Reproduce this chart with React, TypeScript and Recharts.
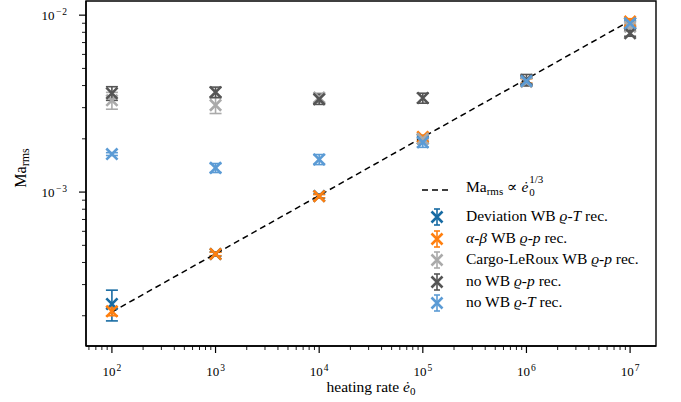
import { ScatterChart, Scatter, XAxis, YAxis, ErrorBar, ReferenceArea } from 'recharts';

const rates = [1e2, 1e3, 1e4, 1e5, 1e6, 1e7];

const devWB = [2.33e-4, 4.47e-4, 9.5e-4, 2.0e-3, 4.25e-3, 9.0e-3];
const devWBErr = [4.6e-5, 1.2e-5, 2.5e-5, 6e-5, 1.5e-4, 3e-4];
const abWB = [2.12e-4, 4.47e-4, 9.48e-4, 2.05e-3, 4.25e-3, 9.2e-3];
const abWBErr = [1.2e-5, 1e-5, 2e-5, 5e-5, 1.2e-4, 3.5e-4];
const cargoWB = [3.3e-3, 3.1e-3, 3.42e-3, 2.0e-3, 4.2e-3, 8.6e-3];
const cargoWBErr = [3.6e-4, 3.2e-4, 2e-4, 1e-4, 2e-4, 3e-4];
const noWBp = [3.62e-3, 3.67e-3, 3.35e-3, 3.4e-3, 4.3e-3, 7.9e-3];
const noWBpErr = [3.2e-4, 2.5e-4, 2.2e-4, 2.2e-4, 3.2e-4, 3e-4];
const noWBT = [1.64e-3, 1.37e-3, 1.53e-3, 1.91e-3, 4.25e-3, 9.0e-3];
const noWBTErr = [3e-5, 8e-5, 1e-4, 1.2e-4, 1.5e-4, 3e-4];

// reference scaling line, endpoints only
const fitRates = [1e2, 1e7];
const fitValues = [2.1e-4, 9.3e-3];

const X_DOMAIN = [Math.pow(10, 1.75), Math.pow(10, 7.25)];
const Y_DOMAIN = [Math.pow(10, -3.87), Math.pow(10, -1.92)];

const FONT = '"Liberation Serif", "Times New Roman", "DejaVu Serif", serif';

const minorTicks = (lo: number, hi: number) => {
  const out: number[] = [];
  for (let e = Math.floor(Math.log10(lo)); e <= Math.ceil(Math.log10(hi)); e++) {
    for (let m = 1; m < 10; m++) {
      const v = m * Math.pow(10, e);
      if (v >= lo && v <= hi) out.push(v);
    }
  }
  return out;
};

const isMajor = (v: number) => {
  const l = Math.log10(v);
  return Math.abs(l - Math.round(l)) < 1e-6;
};

const expLabel = (v: number) => {
  const e = Math.round(Math.log10(v));
  return e < 0 ? '\u2212' + Math.abs(e) : String(e);
};

const XTick = (props: any) => {
  const { x, y, payload } = props;
  const major = isMajor(payload.value);
  return (
    <g>
      <line x1={x} x2={x} y1={y} y2={y + (major ? 7 : 4)} stroke="#000" strokeWidth={major ? 1.2 : 0.9} />
      {major && (
        <text x={x} y={y + 30} textAnchor="middle" fontSize={13} fontFamily={FONT} fill="#000">
          10<tspan dy={-5} dx={1} fontSize={9.5}>{expLabel(payload.value)}</tspan>
        </text>
      )}
    </g>
  );
};

const YTick = (props: any) => {
  const { x, y, payload } = props;
  const major = isMajor(payload.value);
  return (
    <g>
      <line x1={x} x2={x - (major ? 7 : 4)} y1={y} y2={y} stroke="#000" strokeWidth={major ? 1.2 : 0.9} />
      {major && (
        <text x={x - 18} y={y + 5} textAnchor="end" fontSize={13} fontFamily={FONT} fill="#000">
          10<tspan dy={-5} dx={1.5} fontSize={9.5} letterSpacing={1}>{expLabel(payload.value)}</tspan>
        </text>
      )}
    </g>
  );
};

const xMarker = (color: string) => (props: any) => {
  const { cx, cy } = props;
  if (cx == null || cy == null) return <g />;
  const s = 5.6;
  return (
    <path
      d={`M${cx - s},${cy - s}L${cx + s},${cy + s}M${cx - s},${cy + s}L${cx + s},${cy - s}`}
      stroke={color}
      strokeWidth={2.6}
      fill="none"
    />
  );
};

const series = [
  { name: 'dev', values: devWB, errs: devWBErr, color: '#176ba3' },
  { name: 'ab', values: abWB, errs: abWBErr, color: '#ff7f0e' },
  { name: 'cargo', values: cargoWB, errs: cargoWBErr, color: '#aaaaaa' },
  { name: 'nop', values: noWBp, errs: noWBpErr, color: '#555555' },
  { name: 'noT', values: noWBT, errs: noWBTErr, color: '#5b9bd5' },
];

const fitData = fitRates.map((x, i) => ({ x, y: fitValues[i] }));

const LegendMarker = ({ color }: { color: string }) => (
  <svg width={30} height={20} style={{ position: 'absolute', left: 422, top: -10 }}>
    <line x1={15} x2={15} y1={2} y2={18} stroke={color} strokeWidth={1.6} />
    <line x1={12} x2={18} y1={2} y2={2} stroke={color} strokeWidth={1.6} />
    <line x1={12} x2={18} y1={18} y2={18} stroke={color} strokeWidth={1.6} />
    <path d="M9.5,4.5L20.5,15.5M9.5,15.5L20.5,4.5" stroke={color} strokeWidth={2.6} />
  </svg>
);

const it = { fontStyle: 'italic' } as const;

const legendRows = [
  { color: '#176ba3', label: <>Deviation WB <span style={it}>ϱ</span>-<span style={it}>T</span> rec.</> },
  { color: '#ff7f0e', label: <><span style={it}>α</span>-<span style={it}>β</span> WB <span style={it}>ϱ</span>-<span style={it}>p</span> rec.</> },
  { color: '#aaaaaa', label: <>Cargo-LeRoux WB <span style={it}>ϱ</span>-<span style={it}>p</span> rec.</> },
  { color: '#555555', label: <>no WB <span style={it}>ϱ</span>-<span style={it}>p</span> rec.</> },
  { color: '#5b9bd5', label: <>no WB <span style={it}>ϱ</span>-<span style={it}>T</span> rec.</> },
];
const legendTops = [217, 239, 260, 282, 303];

export default function App() {
  return (
    <div style={{ position: 'absolute', left: 0, top: 0, width: 681, height: 402, background: '#fff', fontFamily: FONT }}>
      <ScatterChart width={681} height={402} margin={{ top: 1, right: 25, bottom: 0, left: 0 }}>
        <XAxis
          dataKey="x"
          type="number"
          scale="log"
          domain={X_DOMAIN}
          allowDataOverflow
          ticks={minorTicks(X_DOMAIN[0], X_DOMAIN[1])}
          interval={0}
          tick={<XTick />}
          tickLine={false}
          tickSize={0}
          tickMargin={0}
          height={56}
          axisLine={{ stroke: '#000', strokeWidth: 1.4 }}
        />
        <YAxis
          dataKey="y"
          type="number"
          scale="log"
          domain={Y_DOMAIN}
          allowDataOverflow
          ticks={minorTicks(Y_DOMAIN[0], Y_DOMAIN[1])}
          interval={0}
          tick={<YTick />}
          tickLine={false}
          tickSize={0}
          tickMargin={0}
          width={86}
          axisLine={{ stroke: '#000', strokeWidth: 1.4 }}
        />
        <ReferenceArea
          x1={X_DOMAIN[0]}
          x2={X_DOMAIN[1]}
          y1={Y_DOMAIN[0]}
          y2={Y_DOMAIN[1]}
          ifOverflow="visible"
          fill="none"
          fillOpacity={0}
          stroke="#000"
          strokeWidth={1.4}
          strokeOpacity={1}
        />
        <Scatter
          data={fitData}
          line={{ stroke: '#000', strokeWidth: 1.5, strokeDasharray: '6 4' }}
          shape={() => <g />}
          isAnimationActive={false}
        />
        {series.map((s) => (
          <Scatter
            key={s.name}
            data={rates.map((x, i) => ({ x, y: s.values[i], err: s.errs[i] }))}
            shape={xMarker(s.color)}
            isAnimationActive={false}
          >
            <ErrorBar dataKey="err" direction="y" width={6} strokeWidth={1.6} stroke={s.color} />
          </Scatter>
        ))}
        <text
          x={26}
          y={168}
          transform="rotate(-90 26 168)"
          textAnchor="middle"
          fontSize={16}
          fontFamily={FONT}
          fill="#000"
        >
          Ma<tspan fontSize={12} dy={3}>rms</tspan>
        </text>
        <text x={371} y={392} textAnchor="middle" fontSize={15.5} fontFamily={FONT} fill="#000">
          heating rate <tspan fontStyle="italic">ė</tspan>
          <tspan fontSize={11} dy={3}>0</tspan>
        </text>
      </ScatterChart>

      <div style={{ position: 'absolute', left: 0, top: 0, width: 681, height: 402, pointerEvents: 'none', fontSize: 15.5, color: '#000' }}>
        <div style={{ position: 'absolute', left: 0, top: 190 }}>
          <svg width={32} height={4} style={{ position: 'absolute', left: 421, top: -2 }}>
            <line x1={1} x2={31} y1={2} y2={2} stroke="#000" strokeWidth={1.5} strokeDasharray="6 4" />
          </svg>
          <div style={{ position: 'absolute', left: 466, top: -12, whiteSpace: 'nowrap', lineHeight: '18px' }}>
            Ma<span style={{ fontSize: 11, position: 'relative', top: 3 }}>rms</span> ∝ <span style={it}>ė</span>
            <span style={{ position: 'relative', display: 'inline-block', width: 18 }}>
              <span style={{ position: 'absolute', left: 1, top: -18, fontSize: 11, lineHeight: '11px' }}>1/3</span>
              <span style={{ position: 'absolute', left: 1, top: -5, fontSize: 11, lineHeight: '11px' }}>0</span>
            </span>
          </div>
        </div>
        {legendRows.map((r, i) => (
          <div key={i} style={{ position: 'absolute', left: 0, top: legendTops[i] }}>
            <LegendMarker color={r.color} />
            <div style={{ position: 'absolute', left: 466, top: -10, whiteSpace: 'nowrap', lineHeight: '18px' }}>{r.label}</div>
          </div>
        ))}
      </div>
    </div>
  );
}
